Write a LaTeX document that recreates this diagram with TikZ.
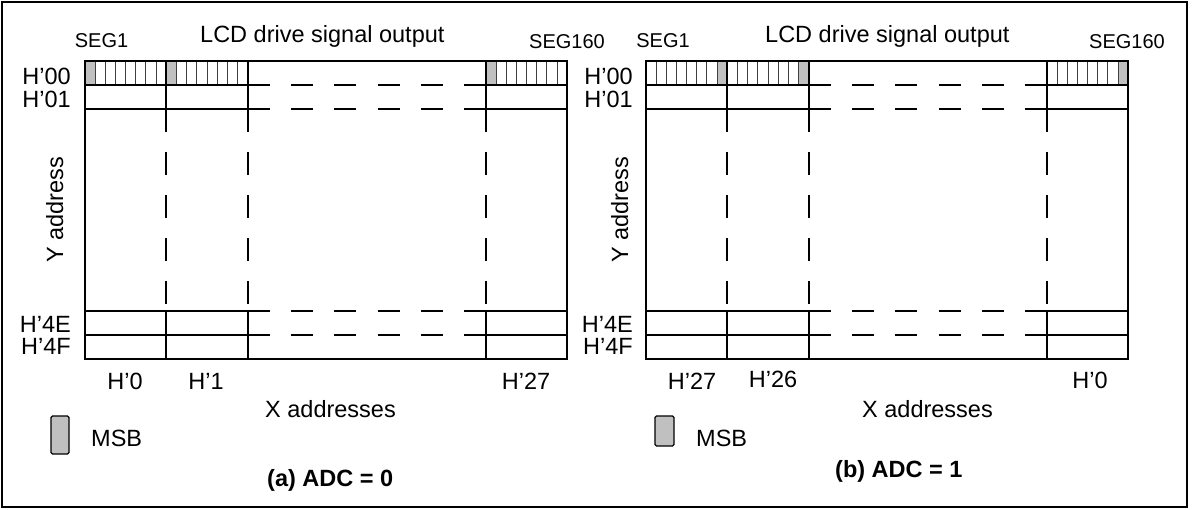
\documentclass[tikz,border=0pt]{standalone}
\usepackage{fontspec}
\setmainfont{Liberation Sans}
\definecolor{msbgray}{RGB}{192,192,192}
\tikzset{
  gridline/.style={line width=1.6pt, line cap=rect},
  hdash/.style={line width=1.6pt, dash pattern=on 22pt off 21.2pt},
  vdash/.style={line width=1.6pt, dash pattern=on 23pt off 20pt},
  bitline/.style={line width=0.7pt, draw=black!75},
  lbl/.style={inner sep=0pt, font=\fontsize{23.5}{27}\selectfont, anchor=base},
  seglbl/.style={inner sep=0pt, font=\fontsize{20}{24}\selectfont, anchor=base},
  msbbox/.style={fill=msbgray, draw=black, line width=1.2pt, rounded corners=1.5pt},
}
\begin{document}
\begin{tikzpicture}[x=1pt,y=-1pt]
\useasboundingbox (0,0) rectangle (1196,509);
\draw[line width=1.2pt] (2,2) rectangle (1187,507);

\foreach \ox/\side in {0/0,561/1}{
\begin{scope}[xshift=\ox pt]
  % top row bit cells
  \foreach \L/\R in {85/166,166/248,486/567}{
    \ifnum\side=0
      \fill[msbgray] (\L,61) rectangle ({\L+(\R-\L)/8},85);
    \else
      \fill[msbgray] ({\R-(\R-\L)/8},61) rectangle (\R,85);
    \fi
    \foreach \k in {1,...,7}{
      \draw[bitline] ({\L+\k*(\R-\L)/8},61) -- ({\L+\k*(\R-\L)/8},85);
    }
  }
  \draw[gridline] (85,61) rectangle (567,359);
  \foreach \y in {85,109,311,335}{
    \draw[gridline] (85,\y) -- (248,\y);
    \draw[gridline] (486,\y) -- (567,\y);
    \draw[hdash] (248,\y) -- (486,\y);
  }
  \foreach \x in {166,248,486}{
    \draw[gridline] (\x,61) -- (\x,109);
    \draw[gridline] (\x,311) -- (\x,359);
    \draw[vdash] (\x,109) -- (\x,311);
  }
\end{scope}
}

% ---- panel (a) labels
\node[seglbl] (segAa) at (101.5,47) {SEG1};
\node[lbl, anchor=base west] (lcdA) at (200,42) {LCD drive signal output};
\node[seglbl] (segBa) at (567,48) {SEG160};
\node[lbl, anchor=base east] (r0a) at (71,84) {H’00};
\node[lbl, anchor=base east] (r1a) at (71,107) {H’01};
\node[lbl, anchor=base east] (r2a) at (71,332) {H’4E};
\node[lbl, anchor=base east] (r3a) at (71,354) {H’4F};
\node[lbl, rotate=90] (ya) at (63,210) {Y address};
\node[lbl] (c0a) at (125,389) {H’0};
\node[lbl] (c1a) at (206,389) {H’1};
\node[lbl] (c2a) at (526,389) {H’27};
\node[lbl, anchor=base west] (xa) at (265,417) {X addresses};
\draw[msbbox] (51,416) rectangle (69,454);
\node[lbl, anchor=base west] (msba) at (91,446) {MSB};
\node[lbl, anchor=base west, font=\fontsize{23.5}{27}\selectfont\bfseries] (adca) at (267,486) {(a) ADC = 0};

% ---- panel (b) labels
\node[seglbl] (segAb) at (663,47) {SEG1};
\node[lbl, anchor=base west] (lcdB) at (765,42) {LCD drive signal output};
\node[seglbl] (segBb) at (1127,48) {SEG160};
\node[lbl, anchor=base east] (r0b) at (633,84) {H’00};
\node[lbl, anchor=base east] (r1b) at (633,107) {H’01};
\node[lbl, anchor=base east] (r2b) at (633,332) {H’4E};
\node[lbl, anchor=base east] (r3b) at (633,354) {H’4F};
\node[lbl, rotate=90] (yb) at (628,210) {Y address};
\node[lbl] (c0b) at (692,389) {H’27};
\node[lbl] (c1b) at (773,387) {H’26};
\node[lbl] (c2b) at (1090,388) {H’0};
\node[lbl, anchor=base west] (xb) at (862,417) {X addresses};
\draw[msbbox] (655,416) rectangle (674,446);
\node[lbl, anchor=base west] (msbb) at (696,446) {MSB};
\node[lbl, anchor=base west, font=\fontsize{23.5}{27}\selectfont\bfseries] (adcb) at (835,477) {(b) ADC = 1};
\end{tikzpicture}
\end{document}
